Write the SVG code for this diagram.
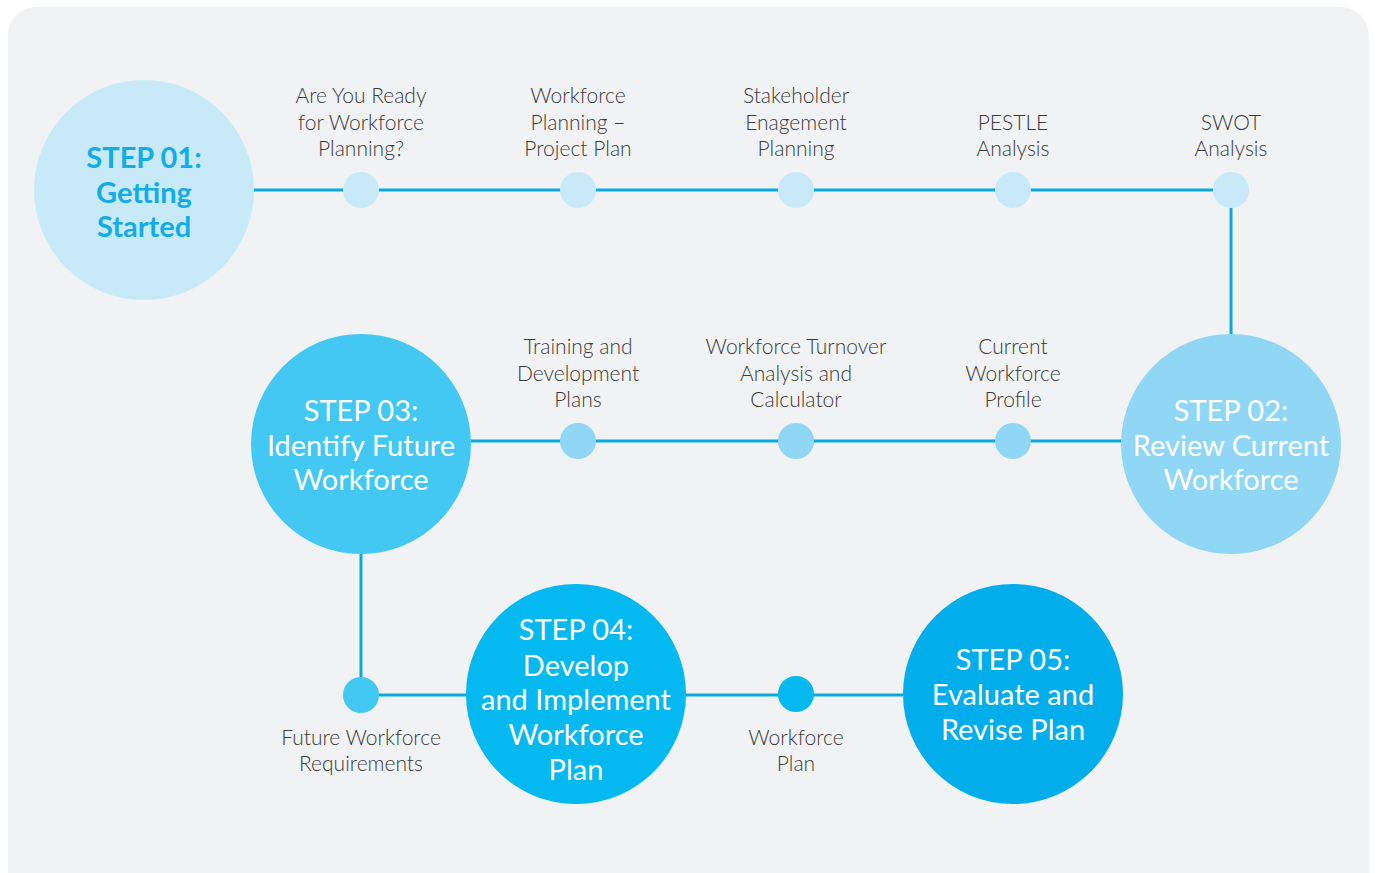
<svg xmlns="http://www.w3.org/2000/svg" width="1375" height="873" viewBox="0 0 1375 873">
<style>
.lbl{font-family:Lato,"Open Sans","Liberation Sans",sans-serif;font-weight:300;font-size:21px;fill:#3a3a3a;text-anchor:middle}
.step{font-family:Lato,"Open Sans","Liberation Sans",sans-serif;font-weight:400;font-size:29px;text-anchor:middle;fill:#ffffff}
.ln{stroke:#0aa9e0;stroke-width:3;fill:none}
</style>
<rect x="8" y="7" width="1361" height="900" rx="28" fill="#f1f2f4"/>
<g id="connectors">
<path class="ln" d="M254 190 H1231 V334"/>
<path class="ln" d="M471 441 H1121"/>
<path class="ln" d="M361 554 V695 H903"/>
</g>
<g id="step01">
<circle cx="144" cy="190" r="110" fill="#c8e9f8"/>
<text class="step" style="fill:#12ace8;font-weight:700"><tspan x="144" y="168">STEP 01:</tspan><tspan x="144" y="203">Getting</tspan><tspan x="144" y="237">Started</tspan></text>
</g>
<g id="n-ready"><circle cx="361" cy="190" r="18" fill="#c8e9f8"/><text class="lbl"><tspan x="361" y="103">Are You Ready</tspan><tspan x="361" y="130">for Workforce</tspan><tspan x="361" y="156">Planning?</tspan></text></g>
<g id="n-project"><circle cx="578" cy="190" r="18" fill="#c8e9f8"/><text class="lbl"><tspan x="578" y="103">Workforce</tspan><tspan x="578" y="130">Planning –</tspan><tspan x="578" y="156">Project Plan</tspan></text></g>
<g id="n-stake"><circle cx="796" cy="190" r="18" fill="#c8e9f8"/><text class="lbl"><tspan x="796" y="103">Stakeholder</tspan><tspan x="796" y="130">Enagement</tspan><tspan x="796" y="156">Planning</tspan></text></g>
<g id="n-pestle"><circle cx="1013" cy="190" r="18" fill="#c8e9f8"/><text class="lbl"><tspan x="1013" y="130">PESTLE</tspan><tspan x="1013" y="156">Analysis</tspan></text></g>
<g id="n-swot"><circle cx="1231" cy="190" r="18" fill="#c8e9f8"/><text class="lbl"><tspan x="1231" y="130">SWOT</tspan><tspan x="1231" y="156">Analysis</tspan></text></g>
<g id="step02">
<circle cx="1231" cy="444" r="110" fill="#8fd7f5"/>
<text class="step"><tspan x="1231" y="421">STEP 02:</tspan><tspan x="1231" y="456">Review Current</tspan><tspan x="1231" y="490">Workforce</tspan></text>
</g>
<g id="n-training"><circle cx="578" cy="441" r="18" fill="#8fd7f5"/><text class="lbl"><tspan x="578" y="354">Training and</tspan><tspan x="578" y="381">Development</tspan><tspan x="578" y="407">Plans</tspan></text></g>
<g id="n-turnover"><circle cx="796" cy="441" r="18" fill="#8fd7f5"/><text class="lbl"><tspan x="796" y="354">Workforce Turnover</tspan><tspan x="796" y="381">Analysis and</tspan><tspan x="796" y="407">Calculator</tspan></text></g>
<g id="n-current"><circle cx="1013" cy="441" r="18" fill="#8fd7f5"/><text class="lbl"><tspan x="1013" y="354">Current</tspan><tspan x="1013" y="381">Workforce</tspan><tspan x="1013" y="407">Profile</tspan></text></g>
<g id="step03">
<circle cx="361" cy="444" r="110" fill="#43c8f3"/>
<text class="step"><tspan x="361" y="421">STEP 03:</tspan><tspan x="361" y="456">Identify Future</tspan><tspan x="361" y="490">Workforce</tspan></text>
</g>
<g id="n-future"><circle cx="361" cy="695" r="18" fill="#43c8f3"/><text class="lbl"><tspan x="361" y="745">Future Workforce</tspan><tspan x="361" y="771">Requirements</tspan></text></g>
<g id="step04">
<circle cx="576" cy="694" r="110" fill="#04b9ef"/>
<text class="step"><tspan x="576" y="640">STEP 04:</tspan><tspan x="576" y="676">Develop</tspan><tspan x="576" y="710">and Implement</tspan><tspan x="576" y="745">Workforce</tspan><tspan x="576" y="780">Plan</tspan></text>
</g>
<g id="n-plan"><circle cx="796" cy="694" r="18" fill="#04b9ef"/><text class="lbl"><tspan x="796" y="745">Workforce</tspan><tspan x="796" y="771">Plan</tspan></text></g>
<g id="step05">
<circle cx="1013" cy="694" r="110" fill="#02adeb"/>
<text class="step"><tspan x="1013" y="670">STEP 05:</tspan><tspan x="1013" y="705">Evaluate and</tspan><tspan x="1013" y="740">Revise Plan</tspan></text>
</g>
</svg>
